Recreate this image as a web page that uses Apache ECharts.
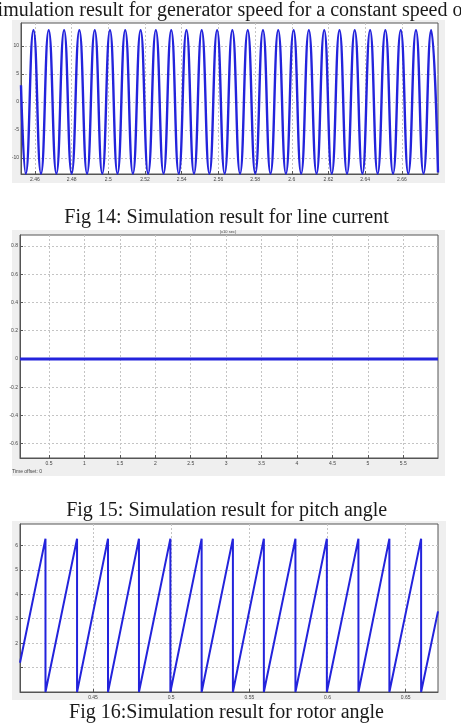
<!DOCTYPE html>
<html><head><meta charset="utf-8">
<script src="https://cdn.jsdelivr.net/npm/echarts@6/dist/echarts.min.js"></script>
<style>html,body{margin:0;padding:0;background:#fff}#c{width:461px;height:725px}</style>
</head><body><div id="c"></div>
<script>
// ---- Fig 14: line current (top panel) ----
const currentTimes = [2.4524, 2.4550, 2.4592, 2.4633, 2.4675, 2.4717, 2.4759, 2.4800, 2.4842, 2.4884, 2.4926,
  2.4967, 2.5009, 2.5050, 2.5092, 2.5134, 2.5176, 2.5217, 2.5259, 2.5301, 2.5343, 2.5384, 2.5426,
  2.5467, 2.5509, 2.5551, 2.5593, 2.5634, 2.5676, 2.5718, 2.5760, 2.5801, 2.5843, 2.5884, 2.5926,
  2.5968, 2.6010, 2.6051, 2.6093, 2.6135, 2.6177, 2.6218, 2.6260, 2.6301, 2.6343, 2.6385, 2.6427,
  2.6468, 2.6510, 2.6552, 2.6594, 2.6635, 2.6677, 2.6718, 2.6760, 2.6797];
const currentValues = [3.0, -12.8, 12.8, -12.8, 12.8, -12.8, 12.8, -12.8, 12.8, -12.8, 12.8,
  -12.8, 12.8, -12.8, 12.8, -12.8, 12.8, -12.8, 12.8, -12.8, 12.8, -12.8, 12.8,
  -12.8, 12.8, -12.8, 12.8, -12.8, 12.8, -12.8, 12.8, -12.8, 12.8, -12.8, 12.8,
  -12.8, 12.8, -12.8, 12.8, -12.8, 12.8, -12.8, 12.8, -12.8, 12.8, -12.8, 12.8,
  -12.8, 12.8, -12.8, 12.8, -12.8, 12.8, -12.8, 12.8, -12.6];
const currentXTicks = [2.46, 2.48, 2.5, 2.52, 2.54, 2.56, 2.58, 2.6, 2.62, 2.64, 2.66];
const currentYTicks = [-10, -5, 0, 5, 10];

// ---- Fig 15: pitch angle (middle panel) ----
const pitchTimes = [0.09, 5.99];
const pitchValues = [0, 0];
const pitchXTicks = [0.5, 1, 1.5, 2, 2.5, 3, 3.5, 4, 4.5, 5, 5.5];
const pitchYTicks = [-0.6, -0.4, -0.2, 0, 0.2, 0.4, 0.6, 0.8];

// ---- Fig 16: rotor angle (bottom panel) ----
const rotorTimes = [0.4033, 0.4196, 0.4196, 0.4398, 0.4398, 0.4596, 0.4596, 0.4794, 0.4794,
  0.4995, 0.4995, 0.5195, 0.5195, 0.5395, 0.5395, 0.5593, 0.5593, 0.5795, 0.5795,
  0.5996, 0.5996, 0.6198, 0.6198, 0.6396, 0.6396, 0.6599, 0.6599, 0.6707];
const rotorValues = [1.2, 6.28, 0, 6.28, 0, 6.28, 0, 6.28, 0,
  6.28, 0, 6.28, 0, 6.28, 0, 6.28, 0, 6.28, 0,
  6.28, 0, 6.28, 0, 6.28, 0, 6.28, 0, 3.3];
const rotorXTicks = [0.45, 0.5, 0.55, 0.6, 0.65];
const rotorYTicks = [1, 2, 3, 4, 5, 6];
const rotorYLabels = [2, 3, 4, 5, 6];

const captions = [
  'imulation result for generator speed for a constant speed o',
  'Fig 14: Simulation result for line current',
  'Fig 15: Simulation result for pitch angle',
  'Fig 16:Simulation result for rotor angle'
];

const zip = (a, b) => a.map((v, i) => [v, b[i]]);
const fmt = v => String(+(+v).toFixed(3));
const BLUE = '#2323dc';
const AX = '#555';
const grid = { color: '#c4c4c4', type: [2, 2], width: 1 };

function xAxis(gi, min, max, ticks) {
  return {
    type: 'value', gridIndex: gi, min, max,
    axisLine: { show: true, onZero: false, lineStyle: { color: AX } },
    axisTick: { show: true, inside: true, length: 3, customValues: ticks, lineStyle: { color: AX } },
    axisLabel: { customValues: ticks, fontSize: 5, color: '#444', margin: 3, formatter: fmt, fontFamily: 'Liberation Sans' },
    splitLine: { show: true, lineStyle: grid }
  };
}
function yAxis(gi, min, max, ticks, labels) {
  return {
    type: 'value', gridIndex: gi, min, max,
    axisLine: { show: true, onZero: false, lineStyle: { color: AX } },
    axisTick: { show: true, inside: true, length: 3, customValues: ticks, lineStyle: { color: AX } },
    axisLabel: { customValues: labels || ticks, fontSize: 5, color: '#444', margin: 2, formatter: fmt, fontFamily: 'Liberation Sans' },
    splitLine: { show: true, lineStyle: grid }
  };
}
const capFont = '20px "Liberation Serif", "Times New Roman", serif';
const chart = echarts.init(document.getElementById('c'), null, { renderer: 'canvas' });
chart.setOption({
  animation: false,
  backgroundColor: '#fff',
  grid: [
    { left: 21, top: 23, width: 417, height: 151, show: true, backgroundColor: '#fff', borderColor: AX, borderWidth: 1 },
    { left: 20, top: 235, width: 418, height: 223, show: true, backgroundColor: '#fff', borderColor: AX, borderWidth: 1 },
    { left: 20, top: 524, width: 418, height: 168, show: true, backgroundColor: '#fff', borderColor: AX, borderWidth: 1 }
  ],
  xAxis: [
    xAxis(0, 2.4524, 2.6797, currentXTicks),
    xAxis(1, 0.09, 5.99, pitchXTicks),
    xAxis(2, 0.4033, 0.6707, rotorXTicks)
  ],
  yAxis: [
    yAxis(0, -12.86, 14.1, currentYTicks),
    yAxis(1, -0.702, 0.878, pitchYTicks),
    yAxis(2, 0, 6.88, rotorYTicks, rotorYLabels)
  ],
  series: [
    { type: 'line', xAxisIndex: 0, yAxisIndex: 0, data: zip(currentTimes, currentValues), showSymbol: false,
      smooth: 0.5, smoothMonotone: 'x', lineStyle: { color: BLUE, width: 2.4 } },
    { type: 'line', xAxisIndex: 1, yAxisIndex: 1, data: zip(pitchTimes, pitchValues), showSymbol: false,
      lineStyle: { color: BLUE, width: 3 } },
    { type: 'line', xAxisIndex: 2, yAxisIndex: 2, data: zip(rotorTimes, rotorValues), showSymbol: false,
      lineStyle: { color: BLUE, width: 2 } }
  ],
  graphic: { elements: [
    { type: 'rect', z: -10, shape: { x: 12, y: 20, width: 433, height: 163 }, style: { fill: '#efefef' } },
    { type: 'rect', z: -10, shape: { x: 12, y: 230, width: 433, height: 246 }, style: { fill: '#efefef' } },
    { type: 'rect', z: -10, shape: { x: 12, y: 521, width: 434, height: 179 }, style: { fill: '#efefef' } },
    { type: 'text', z: 10, x: 230, y: 11, style: { text: captions[0], font: capFont, fill: '#1a1a1a', align: 'center', verticalAlign: 'middle' } },
    { type: 'text', z: 10, x: 226.5, y: 218, style: { text: captions[1], font: capFont, fill: '#1a1a1a', align: 'center', verticalAlign: 'middle' } },
    { type: 'text', z: 10, x: 226.7, y: 511, style: { text: captions[2], font: capFont, fill: '#1a1a1a', align: 'center', verticalAlign: 'middle' } },
    { type: 'text', z: 10, x: 226.5, y: 713, style: { text: captions[3], font: capFont, fill: '#1a1a1a', align: 'center', verticalAlign: 'middle' } },
    { type: 'text', z: 10, x: 228, y: 232, style: { text: '(x10 sec)', font: '4px "Liberation Sans"', fill: '#444', align: 'center', verticalAlign: 'middle' } },
    { type: 'text', z: 10, x: 12, y: 472, style: { text: 'Time offset: 0', font: '5px "Liberation Sans"', fill: '#444', align: 'left', verticalAlign: 'middle' } }
  ] }
});
</script></body></html>
